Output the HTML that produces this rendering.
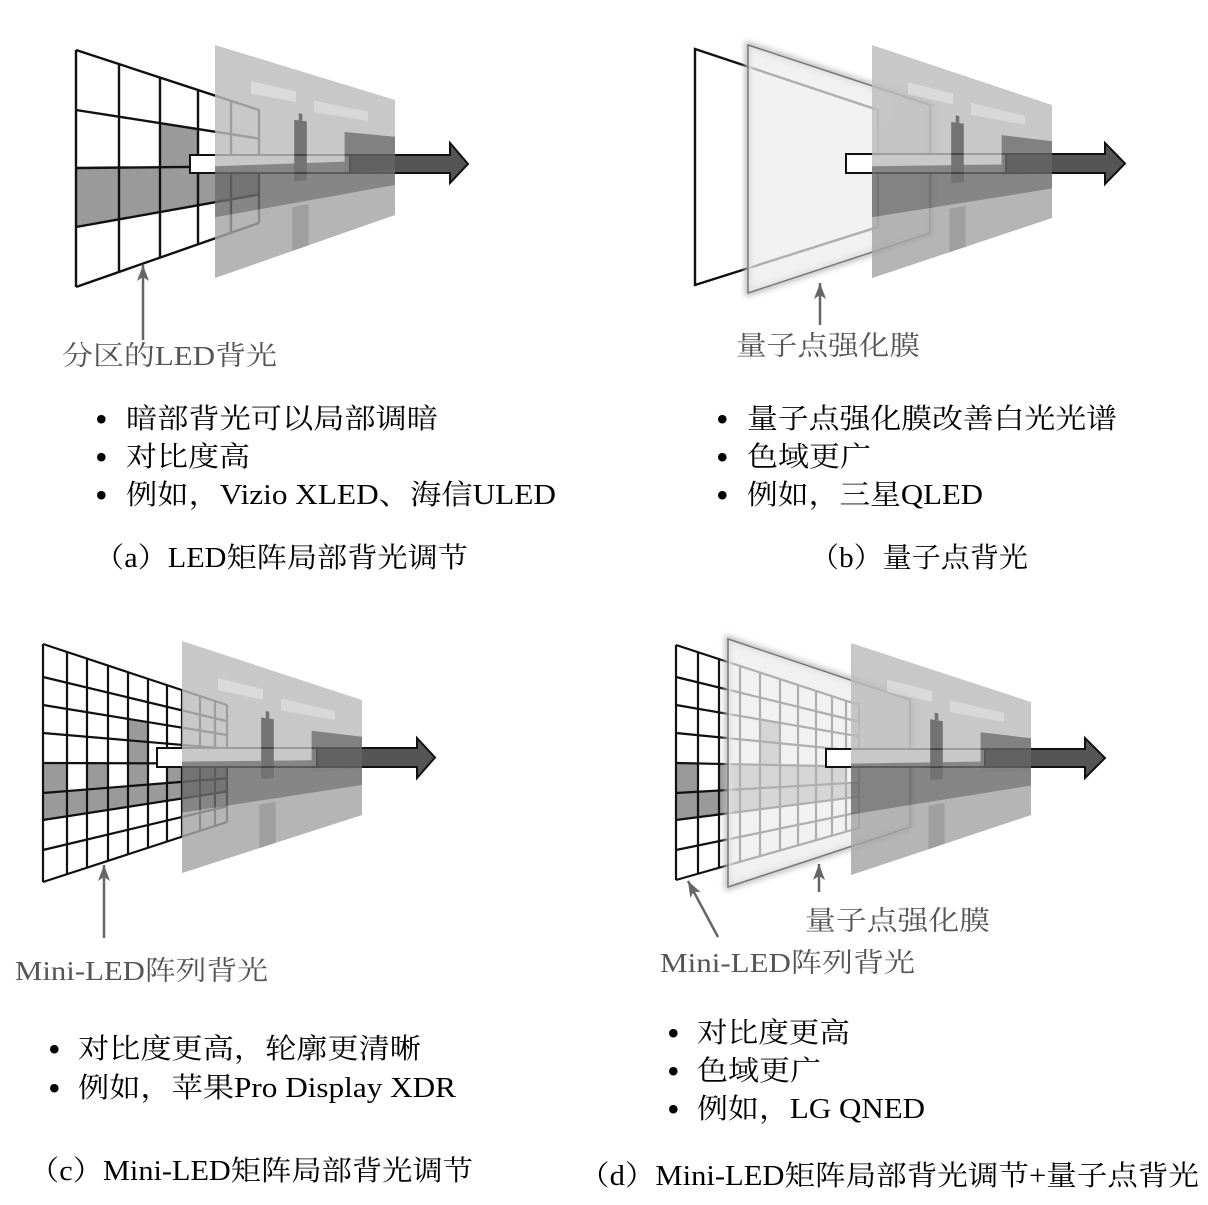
<!DOCTYPE html>
<html><head><meta charset="utf-8">
<style>
html,body{margin:0;padding:0;background:#fff;}
svg{display:block;}
text{font-family:"Liberation Serif","Noto Serif CJK SC",serif;}
.lb{fill:#555;font-size:27px;}
.bt{fill:#000;font-size:28px;}
.dt{fill:#000;font-size:36px;}
</style></head>
<body>
<svg id="s" width="1208" height="1205" viewBox="0 0 1208 1205" xmlns="http://www.w3.org/2000/svg">
<defs>
<filter id="sh" x="-10%" y="-10%" width="120%" height="120%"><feGaussianBlur stdDeviation="3"/></filter>
</defs>
<g id="g"></g>
<text class="lb" x="62" y="365" textLength="215" lengthAdjust="spacingAndGlyphs">分区的LED背光</text>
<text class="lb" x="736" y="355" textLength="184" lengthAdjust="spacingAndGlyphs">量子点强化膜</text>
<text class="lb" x="15" y="980" textLength="253" lengthAdjust="spacingAndGlyphs">Mini-LED阵列背光</text>
<text class="lb" x="805" y="930" textLength="185" lengthAdjust="spacingAndGlyphs">量子点强化膜</text>
<text class="lb" x="660" y="972" textLength="255" lengthAdjust="spacingAndGlyphs">Mini-LED阵列背光</text>
<g>
<text x="95" y="431" class="dt">•</text><text class="bt" x="126" y="428" textLength="312" lengthAdjust="spacingAndGlyphs">暗部背光可以局部调暗</text>
<text x="95" y="469" class="dt">•</text><text class="bt" x="126" y="466" textLength="124" lengthAdjust="spacingAndGlyphs">对比度高</text>
<text x="95" y="507" class="dt">•</text><text class="bt" x="126" y="504" textLength="430" lengthAdjust="spacingAndGlyphs">例如，Vizio XLED、海信ULED</text>
<text class="bt" x="94" y="567" textLength="374" lengthAdjust="spacingAndGlyphs">（a）LED矩阵局部背光调节</text>
<text x="716" y="431" class="dt">•</text><text class="bt" x="747" y="428" textLength="370" lengthAdjust="spacingAndGlyphs">量子点强化膜改善白光光谱</text>
<text x="716" y="469" class="dt">•</text><text class="bt" x="747" y="466" textLength="124" lengthAdjust="spacingAndGlyphs">色域更广</text>
<text x="716" y="507" class="dt">•</text><text class="bt" x="747" y="504" textLength="236" lengthAdjust="spacingAndGlyphs">例如，三星QLED</text>
<text class="bt" x="810" y="567" textLength="218" lengthAdjust="spacingAndGlyphs">（b）量子点背光</text>
<text x="48" y="1061" class="dt">•</text><text class="bt" x="78" y="1058" textLength="343" lengthAdjust="spacingAndGlyphs">对比度更高，轮廓更清晰</text>
<text x="48" y="1100" class="dt">•</text><text class="bt" x="78" y="1097" textLength="378" lengthAdjust="spacingAndGlyphs">例如，苹果Pro Display XDR</text>
<text class="bt" x="29" y="1180" textLength="444" lengthAdjust="spacingAndGlyphs">（c）Mini-LED矩阵局部背光调节</text>
<text x="667" y="1045" class="dt">•</text><text class="bt" x="697" y="1042" textLength="153" lengthAdjust="spacingAndGlyphs">对比度更高</text>
<text x="667" y="1083" class="dt">•</text><text class="bt" x="697" y="1080" textLength="124" lengthAdjust="spacingAndGlyphs">色域更广</text>
<text x="667" y="1121" class="dt">•</text><text class="bt" x="697" y="1118" textLength="228" lengthAdjust="spacingAndGlyphs">例如，LG QNED</text>
<text class="bt" x="579" y="1185" textLength="620" lengthAdjust="spacingAndGlyphs">（d）Mini-LED矩阵局部背光调节+量子点背光</text>
</g>
</svg>
<script>
var NS="http://www.w3.org/2000/svg",G=document.getElementById("g");
function el(t,a){var e=document.createElementNS(NS,t);for(var k in a)e.setAttribute(k,a[k]);G.appendChild(e);return e;}
function P(q,u,v){var x=q.L+(q.R-q.L)*u,t=q.tl+(q.tr-q.tl)*u,b=q.bl+(q.br-q.bl)*u;return [x,t+(b-t)*v];}
function quad(q,u0,u1,v0,v1){return [P(q,u0,v0),P(q,u1,v0),P(q,u1,v1),P(q,u0,v1)].map(function(p){return p[0].toFixed(1)+","+p[1].toFixed(1)}).join(" ");}
function grid(q,xs,ys,grays,sw){
 var us=xs.map(function(x){return (x-q.L)/(q.R-q.L)});
 var vs=ys.map(function(y){return (y-ys[0])/(ys[ys.length-1]-ys[0])});
 el("polygon",{points:quad(q,0,1,0,1),fill:"#fff"});
 grays.forEach(function(c){el("polygon",{points:quad(q,us[c[1]],us[c[1]+1],vs[c[0]],vs[c[0]+1]),fill:"#9a9a9a"});});
 for(var i=0;i<us.length;i++){var a=P(q,us[i],0),b=P(q,us[i],1);el("line",{x1:a[0],y1:a[1],x2:b[0],y2:b[1],stroke:"#111","stroke-width":sw});}
 for(var j=0;j<vs.length;j++){var a=P(q,0,vs[j]),b=P(q,1,vs[j]);el("line",{x1:a[0],y1:a[1],x2:b[0],y2:b[1],stroke:"#111","stroke-width":sw});}
}
function photo(q){
 var g=el("g",{opacity:"0.82"});var old=G;G=g;
 el("polygon",{points:quad(q,0,1,0,1),fill:"#bcbcbc"});
 el("polygon",{points:quad(q,0.2,0.45,0.12,0.18),fill:"#d2d2d2"});
 el("polygon",{points:quad(q,0.55,0.85,0.15,0.22),fill:"#d0d0d0"});
 el("polygon",{points:quad(q,0,1,0.52,0.74),fill:"#6c6c6c"});
 el("polygon",{points:quad(q,0.72,1,0.32,0.6),fill:"#666"});
 el("polygon",{points:quad(q,0,1,0.74,1),fill:"#a6a6a6"});
 el("polygon",{points:quad(q,0.43,0.52,0.76,1),fill:"#8a8a8a"});
 el("polygon",{points:quad(q,0.44,0.51,0.28,0.62),fill:"#555"});
 el("polygon",{points:quad(q,0.465,0.485,0.24,0.28),fill:"#555"});
 G=old;
}
function arrow(a){var x0=a[0],xm=a[1],hb=a[2],tp=a[3],y1=a[4],y2=a[5],h1=a[6],h2=a[7];
 el("rect",{x:x0,y:y1,width:xm-x0,height:y2-y1,fill:"#fff",stroke:"#111","stroke-width":2});
 el("polygon",{points:[xm,y1,hb,y1,hb,h1,tp,(y1+y2)/2,hb,h2,hb,y2,xm,y2].join(" "),fill:"#555",stroke:"#111","stroke-width":2,"stroke-linejoin":"miter"});
}
function film(q){
 el("polygon",{points:quad(q,0,1,0,1),fill:"none",stroke:"#bbb","stroke-width":6,filter:"url(#sh)"});
 el("polygon",{points:quad(q,0,1,0,1),fill:"rgba(236,236,236,0.72)",stroke:"#777","stroke-width":1.5});
}
function parrow(x1,y1,x2,y2){
 el("line",{x1:x1,y1:y1,x2:x2,y2:y2,stroke:"#666","stroke-width":2.5});
 var dx=x2-x1,dy=y2-y1,l=Math.hypot(dx,dy),ux=dx/l,uy=dy/l,L=16,W=6;
 var bx=x2-ux*L,by=y2-uy*L;
 el("polygon",{points:[x2,y2,bx-uy*W,by+ux*W,bx+ux*4,by+uy*4,bx+uy*W,by-ux*W].join(" "),fill:"#666"});
}
var qa={L:76,R:259,tl:50,bl:287,tr:110,br:223};
grid(qa,[76,119,160,198,231,259],[50,110,168,227,287],[[1,2],[2,0],[2,1],[2,2],[2,3],[2,4]],2.4);
arrow([190,350,450,468,155,173,143,183]);
photo({L:215,R:395,tl:45,bl:278,tr:100,br:215});
parrow(143,340,143,265);
el("polygon",{points:quad({L:695,R:878,tl:49,bl:285,tr:110,br:227},0,1,0,1),fill:"#fff",stroke:"#111","stroke-width":2.4});
film({L:748,R:930,tl:45,bl:293,tr:105,br:233});
arrow([846,1006,1105,1125,154,173,143,184]);
photo({L:872,R:1052,tl:45,bl:278,tr:105,br:218});
parrow(820,325,820,283);
var gc=[[2,4],[3,4],[4,0],[4,2],[4,4],[4,6],[4,7],[4,8],[4,9]];for(var i=0;i<10;i++)gc.push([5,i]);
grid({L:43,R:227,tl:644,bl:882,tr:705,br:822},[43,67,87,108,128,148,167,182,200,215,227],[644,677,705,733,763,793,820,850,882],gc,2.2);
arrow([157,317,417,435,748,767,738,778]);
photo({L:182,R:362,tl:641,bl:873,tr:700,br:815});
parrow(104,938,104,865);
var gd=[[2,4],[3,4],[4,0],[4,2],[4,3],[4,4],[4,5],[4,6],[4,7],[4,8]];for(var i=0;i<10;i++)gd.push([5,i]);
grid({L:676,R:859,tl:645,bl:880,tr:705,br:828},[676,698,719,740,760,780,798,816,832,846,859],[645,677,705,733,763,793,820,850,880],gd,2.2);
film({L:728,R:910,tl:639,bl:887,tr:700,br:827});
arrow([826,985,1085,1105,749,767,738,778]);
photo({L:851,R:1031,tl:643,bl:875,tr:702,br:815});
parrow(718,937,688,881);
parrow(819,892,819,864);
</script>
</body></html>
